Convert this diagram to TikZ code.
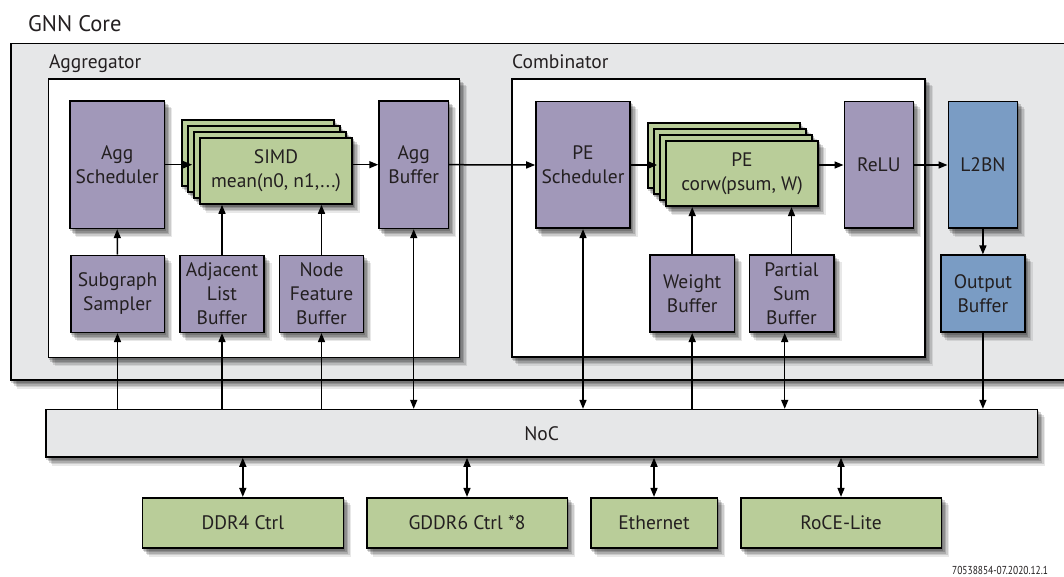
\documentclass[tikz,border=0pt]{standalone}
\usepackage{fontspec}
\setmainfont{PT Sans}
\newfontfamily\notefont[FakeStretch=0.82]{PT Sans}
\usetikzlibrary{arrows.meta}

\pgfdeclarelayer{coreshade}
\pgfdeclarelayer{corelayer}
\pgfdeclarelayer{panelshade}
\pgfdeclarelayer{panellayer}
\pgfdeclarelayer{unitshade}
\pgfsetlayers{coreshade,corelayer,panelshade,panellayer,unitshade,main}

\definecolor{boxpurple}{RGB}{161,152,185}
\definecolor{boxgreen}{RGB}{185,205,153}
\definecolor{boxblue}{RGB}{122,156,196}
\definecolor{panelgray}{RGB}{230,231,232}
\definecolor{inktext}{RGB}{35,31,32}

% soft drop shadow behind a named node: stacked translucent copies
\newcommand\castshadow[1]{%
  \foreach \dx/\dy/\op in {7/8/.09,5.5/6.5/.12,4/5/.15,2.5/3.5/.17,1/2/.17}
    \fill[black,opacity=\op] ([xshift=\dx pt,yshift=-\dy pt]#1.south west)
      rectangle ([xshift=\dx pt,yshift=-\dy pt]#1.north east);}

\begin{document}
\begin{tikzpicture}[x=1pt,y=-1pt,
  blk/.style={draw=black,line width=1.6pt,inner sep=0pt,align=center,text=inktext,
    font=\fontsize{19.5}{24}\selectfont},
  unit/.style={blk,fill=boxpurple},
  greenunit/.style={blk,fill=boxgreen},
  blueunit/.style={blk,fill=boxblue},
  panel/.style={draw=black,line width=1.6pt,inner sep=0pt},
  caption/.style={anchor=base west,text=inktext,inner sep=0pt,font=\fontsize{19.5}{22}\selectfont},
  link/.style={line width=1.5pt,-{Triangle[length=9pt,width=7pt]}},
  dlink/.style={line width=1.5pt,{Triangle[length=9pt,width=7pt]}-{Triangle[length=9pt,width=7pt]}}
]
\useasboundingbox (0,0) rectangle (1064,577);

% outer core panel and its two sub-panels
\begin{pgfonlayer}{corelayer}
\node[panel,fill=panelgray,minimum width=1069pt,minimum height=336.5pt] (core) at (545.5,211.75) {};
\end{pgfonlayer}
\begin{pgfonlayer}{coreshade}
\fill[white] (0,0) rectangle (1064,577);
\end{pgfonlayer}
\node[caption,font=\fontsize{22.5}{26}\selectfont] (corelabel) at (28,31.5) {GNN Core};

\begin{pgfonlayer}{panellayer}
\node[panel,fill=white,minimum width=411pt,minimum height=278pt] (aggr) at (253.8,218.3) {};
\node[panel,fill=white,minimum width=413.5pt,minimum height=277.4pt] (comb) at (718.5,218) {};
\end{pgfonlayer}
\node[caption] (aggrlabel) at (49,68.3) {Aggregator};
\node[caption] (comblabel) at (512,68.3) {Combinator};

% aggregator units
\node[unit,minimum width=94.3pt,minimum height=127.3pt] (aggsch) at (117.2,164.7) {Agg\\Scheduler};
\foreach \i in {0,1,2}
  \node[greenunit,minimum width=152pt,minimum height=66pt] (simd\i) at (258+6*\i,153+6*\i) {};
\node[greenunit,minimum width=152pt,minimum height=66pt] (simd3) at (276,171) {SIMD\\mean(n0, n1,...)};
\node[unit,minimum width=69.3pt,minimum height=127.3pt] (aggbuf) at (413.7,164.7) {Agg\\Buffer};

\node[unit,minimum width=93.6pt,minimum height=77pt] (sampler) at (117.5,293.8) {Subgraph\\Sampler};
\node[unit,minimum width=84pt,minimum height=77pt] (adj) at (222,293.8) {Adjacent\\List\\Buffer};
\node[unit,minimum width=84pt,minimum height=77pt] (nfeat) at (321.5,293.8) {Node\\Feature\\Buffer};

% combinator units
\node[unit,minimum width=94pt,minimum height=126.6pt] (pesch) at (583,165) {PE\\Scheduler};
\foreach \i in {0,1,2}
  \node[greenunit,minimum width=152pt,minimum height=65pt] (pe\i) at (724+6*\i,155.8+6*\i) {};
\node[greenunit,minimum width=152pt,minimum height=65pt] (pe3) at (742,173.8) {PE\\corw(psum, W)};
\node[unit,minimum width=69pt,minimum height=126.6pt] (relu) at (878.8,165) {ReLU};

\node[unit,minimum width=84.3pt,minimum height=77pt] (weight) at (692.2,293.7) {Weight\\Buffer};
\node[unit,minimum width=84.4pt,minimum height=77pt] (psum) at (791.5,293.7) {Partial\\Sum\\Buffer};

% normalisation and output
\node[blueunit,minimum width=69.2pt,minimum height=126.6pt] (l2bn) at (982.9,165) {L2BN};
\node[blueunit,minimum width=84.3pt,minimum height=77pt] (outbuf) at (982.9,293.7) {Output\\Buffer};

% network on chip and external interfaces
\node[blk,fill=panelgray,minimum width=991.3pt,minimum height=47.3pt] (noc) at (541.7,433.3) {NoC};
\node[greenunit,minimum width=201pt,minimum height=50pt] (ddr4) at (242.8,522.7) {DDR4 Ctrl};
\node[greenunit,minimum width=200.6pt,minimum height=50pt] (gddr6) at (467,522.7) {GDDR6 Ctrl *8};
\node[greenunit,minimum width=126.6pt,minimum height=50pt] (eth) at (654,522.7) {Ethernet};
\node[greenunit,minimum width=200.6pt,minimum height=50pt] (roce) at (841,522.7) {RoCE-Lite};

\node[anchor=base west,inner sep=0pt,text=inktext,font=\notefont\fontsize{11.5}{12}\selectfont] (docid) at (952,574) {70538854-07.2020.12.1};

% shadows, each on the layer just beneath what casts it
\begin{pgfonlayer}{coreshade}
\castshadow{core}
\end{pgfonlayer}
\begin{pgfonlayer}{panelshade}
\castshadow{aggr}
\castshadow{comb}
\end{pgfonlayer}
\begin{pgfonlayer}{unitshade}
\foreach \n in {aggsch,simd0,simd1,simd2,simd3,aggbuf,sampler,adj,nfeat,
                pesch,pe0,pe1,pe2,pe3,relu,weight,psum,l2bn,outbuf,
                noc,ddr4,gddr6,eth,roce}
  {\castshadow{\n}}
\end{pgfonlayer}

% data path through the aggregator
\draw[link,shorten >=7pt] (aggsch.east) -- (aggsch.east -| simd3.west);
\draw[link] (simd3.east |- aggbuf.west) -- (aggbuf.west);
\draw[link] (aggbuf.east) -- (pesch.west);
\draw[link] (sampler.north) -- (aggsch.south);
\draw[link] (adj.north) -- (adj.north |- simd3.south);
\draw[link] (nfeat.north) -- (nfeat.north |- simd3.south);

% data path through the combinator
\draw[link,shorten >=8pt] (pesch.east) -- (pesch.east -| pe3.west);
\draw[link] (pe3.east |- relu.west) -- (relu.west);
\draw[link] (relu.east) -- (l2bn.west);
\draw[link] (l2bn.south) -- (outbuf.north);
\draw[link] (weight.north) -- (weight.north |- pe3.south);
\draw[link] (psum.north) -- (psum.north |- pe3.south);

% links to the NoC
\draw[link] (sampler.south |- noc.north) -- (sampler.south);
\draw[link] (adj.south |- noc.north) -- (adj.south);
\draw[link] (nfeat.south |- noc.north) -- (nfeat.south);
\draw[dlink] (aggbuf.south) -- (aggbuf.south |- noc.north);
\draw[dlink] (pesch.south) -- (pesch.south |- noc.north);
\draw[link] (weight.south |- noc.north) -- (weight.south);
\draw[dlink] ([xshift=-6.8pt]psum.south) -- ([xshift=-6.8pt]psum.south |- noc.north);
\draw[link] (outbuf.south) -- (outbuf.south |- noc.north);

\draw[dlink] (noc.south -| ddr4.north) -- (ddr4.north);
\draw[dlink] (noc.south -| gddr6.north) -- (gddr6.north);
\draw[dlink] (noc.south -| eth.north) -- (eth.north);
\draw[dlink] (noc.south -| roce.north) -- (roce.north);
\end{tikzpicture}
\end{document}
